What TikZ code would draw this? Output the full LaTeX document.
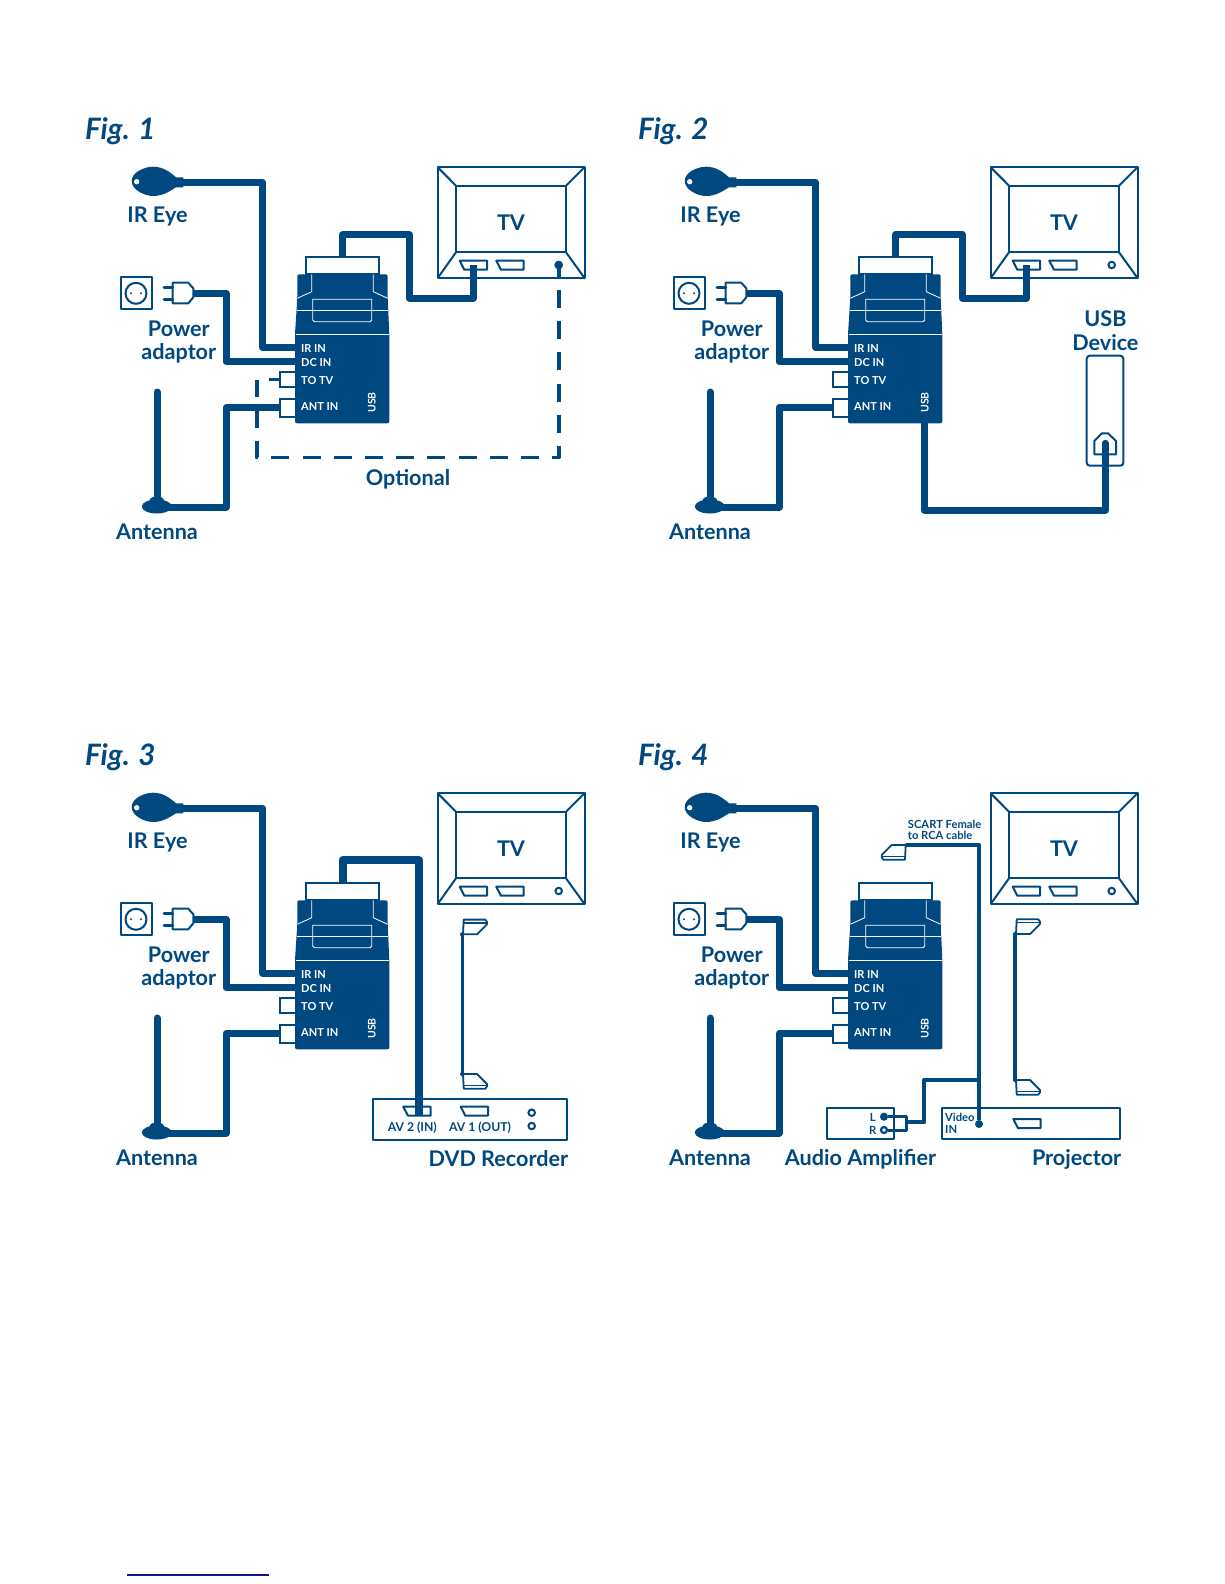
\documentclass[tikz,border=0pt]{standalone}
\usepackage{fontspec}
\setmainfont{Lato}
\definecolor{navy}{RGB}{0,72,128}
\definecolor{rulenavy}{RGB}{20,20,130}
\tikzset{
	cable/.style={draw=navy, line width=7pt, line join=round},
	thincable/.style={draw=navy, line width=4.2pt, line join=round},
	outline/.style={draw=navy, line width=2pt, line join=round},
	hair/.style={draw=white, line width=0.8pt},
	lbl/.style={text=navy, inner sep=0pt, font=\fontsize{21.6}{24}\selectfont\bfseries},
	figlbl/.style={text=navy, inner sep=0pt, anchor=west, font=\fontsize{29.5}{30}\selectfont\bfseries\itshape},
	boxlbl/.style={text=white, inner sep=0pt, anchor=west, font=\fontsize{11}{12}\selectfont\bfseries},
	smalllbl/.style={text=navy, inner sep=0pt, font=\fontsize{11.2}{12}\selectfont\bfseries},
	dvdlbl/.style={text=navy, inner sep=0pt, font=\fontsize{12.2}{13}\selectfont\bfseries},
	jack/.style={circle, draw=navy, fill=white, line width=2pt, inner sep=0pt, minimum size=6.5pt},
	fulljack/.style={circle, fill=navy, inner sep=0pt, minimum size=8pt},
	porter/.style={rectangle, draw=navy, fill=white, line width=2pt, inner sep=0pt, minimum width=16pt, minimum height=15.6pt},
	scartport/.pic={
		\coordinate (mid) at (13,4.5);
		\draw[outline] (0,0) -- (27.3,0) -- (27.3,9) -- (4.6,9) -- cycle;
	},
	scartplug/.pic={
		\coordinate (tip) at (0,0);
		\draw[outline, line width=1.8pt] (1,0) -- (1.7,-14.7) -- (23.3,-14.7) -- (25,-12.3) -- (25,-10) -- (15,0) -- cycle;
		\draw[outline, line width=1.2pt] (1.3,-11.3) -- (25,-11.3);
		\fill[navy] (0,0) circle (2);
	},
	basefig/.pic={
		\coordinate (eyeneck) at (183,182.3);
		\fill[navy] (131.7,181) .. controls (131.7,172) and (145,166.7) .. (153,166.7) .. controls (163,166.7) and (170,172) .. (176,177.3) -- (183.3,177.3) -- (183.3,187.3) -- (176,187.3) .. controls (170,191) and (163,196) .. (153,196) .. controls (145,196) and (131.7,190) .. (131.7,181) -- cycle;
		\fill[white] (136.7,181.7) circle (2.7);
		\node[lbl] (irlabel) at (157.5,216.5) {IR Eye};
		\draw[outline] (120.7,276.7) rectangle (151.7,309);
		\draw[outline] (136,293.3) circle (10.5);
		\fill[navy] (131,293.3) circle (1.1) (141,293.3) circle (1.1);
		\draw[outline] (172.7,282.7) -- (188.3,282.7) -- (193.3,288.3) -- (193.3,297.3) -- (188.3,303.3) -- (172.7,303.3) -- cycle;
		\draw[navy, line width=3pt, line cap=round] (164,287.3) -- (172.7,287.3) (164,299.5) -- (172.7,299.5);
		\coordinate (plugtip) at (193.3,293.3);
		\node[lbl] (powerlabel) at (178.8,329) {Power};
		\node[lbl] (adaptlabel) at (178.8,353) {adaptor};
		\coordinate (anttop) at (157,392);
		\coordinate (antfoot) at (157,507);
		\fill[navy] (156.8,506.5) ellipse (15 and 7) (156.8,500) ellipse (7 and 3.5);
		\draw[cable, line cap=round] (anttop) -- (antfoot);
		\node[lbl] (antlabel) at (157,532) {Antenna};
		\node[porter] (scart) at (342.5,265.5) [minimum width=73.6pt, minimum height=17.4pt] {};
		\fill[navy, rounded corners=2pt] (297.3,274.3) -- (387.7,274.3) -- (387.7,298) -- (389.3,334) -- (389.3,423.3) -- (295,423.3) -- (295,334) -- (297.3,298) -- cycle;
		\draw[hair] (311.7,274.3) -- (311.7,291.7) -- (297.3,298.3) (373.3,274.3) -- (373.3,291.7) -- (387.7,298.3);
		\draw[hair] (312.7,299.3) -- (371.7,299.3) -- (371.7,320) -- (370,321.7) -- (314.4,321.7) -- (312.7,320) -- cycle;
		\draw[hair] (296.7,310) -- (388.4,310);
		\draw[hair] (295.5,334.3) -- (389,334.3);
		\node[boxlbl] (irin) at (301,348.3) {IR IN};
		\node[boxlbl] (dcin) at (301,362.8) {DC IN};
		\node[boxlbl] (totvlabel) at (301,380.3) {TO TV};
		\node[boxlbl] (antinlabel) at (301,406.8) {ANT IN};
		\node[boxlbl, rotate=90, anchor=center, font=\fontsize{10.5}{12}\selectfont\bfseries] (usblabel) at (371.7,402.5) {USB};
		\node[porter] (totv) at (288,379.5) {};
		\node[porter, minimum height=18pt] (antin) at (288,407.5) {};
		\coordinate (irbend) at (262.6,347.3);
		\coordinate (dcbend) at (226,361.7);
		\coordinate (antbend) at (226,407.5);
		\coordinate (irport) at (296,347.3);
		\coordinate (dcport) at (296,361.7);
		\coordinate (usbport) at (371,423);
		\draw[cable] (eyeneck) -| (irbend) -- (irport);
		\draw[cable] (plugtip) -| (dcbend) -- (dcport);
		\draw[cable] (antfoot) -| (antbend) -- (antin.west);
		\draw[outline] (437.7,167.3) rectangle (584.5,278);
		\draw[outline] (456,185.7) rectangle (566,252.3);
		\draw[outline] (437.7,167.3) -- (456,185.7) (584.5,167.3) -- (566,185.7) (437.7,278) -- (456,252.3) (584.5,278) -- (566,252.3);
		\node[lbl] (tvlabel) at (511,222.3) {TV};
		\pic (tvav) at (459.7,260.7) {scartport};
		\pic (tvaux) at (496.3,260.7) {scartport};
		\node[jack] (tvjack) at (558.7,265) {};
	}
}
\begin{document}
\begin{tikzpicture}[x=1pt, y=-1pt]
		\useasboundingbox (0,0) rectangle (1224,1584);
		\coordinate (rulea) at (127,1575);
		\coordinate (ruleb) at (269,1575);
		\draw[rulenavy, line width=1.4pt] (rulea) -- (ruleb);

		\node[figlbl] (figa) at (85,131) {Fig. 1};
		\node[figlbl] (figb) at (638,131) {Fig. 2};
		\node[figlbl] (figc) at (85,757) {Fig. 3};
		\node[figlbl] (figd) at (638,757) {Fig. 4};

		\pic (f1) at (0,0) {basefig};
		\pic (f2) at (553,0) {basefig};
		\pic (f3) at (0,626) {basefig};
		\pic (f4) at (553,626) {basefig};

		\draw[thincable, line width=6.5pt] (f1scart.north) |- ++(67,-21.5) -- ++(0,64) -| (473.6,265);
		\draw[navy, line width=3.9pt, dash pattern=on 18pt off 13.2pt, dash phase=6.2pt, line join=round] (f1tvjack.center) |- (256.7,457.5) -- (256.7,379.7);
		\node[fulljack] (f1jackdot) at (f1tvjack) {};
		\draw[navy, line width=3.9pt] (f1totv.west) -- ++(-10,0);
		\node[lbl] (optlabel) at (408,479) {Optional};

		\draw[thincable, line width=6.5pt] (f2scart.north) |- ++(67,-21.5) -- ++(0,64) -| (1026.6,265);
		\draw[outline, rounded corners=3pt] (1086.7,355.7) rectangle (1123.3,465.7);
		\draw[outline] (1094.3,454.3) -- (1094.3,441) -- (1102,433.3) -- (1108,433.3) -- (1116,441) -- (1116,454.3) -- cycle;
		\coordinate (usbplug) at (1105,443.3);
		\draw[cable, line cap=round] (usbplug) |- (924,510) -- (f2usbport);
		\node[lbl] (usba) at (1105.4,319) {USB};
		\node[lbl] (usbb) at (1105.4,342.5) {Device};

		\draw[outline] (372.7,1099) rectangle (567.3,1140);
		\pic (dvdb) at (403.3,1106.7) {scartport};
		\pic (dvda) at (460.7,1106.7) {scartport};
		\node[jack] (dvdjacka) at (531.7,1112.7) {};
		\node[jack] (dvdjackb) at (531.7,1126) {};
		\node[dvdlbl] (avblabel) at (412.3,1127.7) {AV 2 (IN)};
		\node[dvdlbl] (avalabel) at (480,1127.7) {AV 1 (OUT)};
		\node[lbl] (dvdlabel) at (498.4,1158.3) {DVD Recorder};
		\coordinate (dvdin) at (418.7,1115);
		\draw[cable, line width=8pt] (f3scart.north) |- ++(76.2,-22) -- (dvdin);
		\pic (f3plugt) at (462,934.3) {scartplug};
		\pic[yscale=-1] (f3plugb) at (462,1074) {scartplug};
		\draw[navy, line width=3pt] (f3plugttip) -- (f3plugbtip);

		\pic[xscale=-1, yscale=-1] (f4scartplug) at (906.7,845) {scartplug};
		\node[smalllbl, anchor=west] (scartlabela) at (907.7,824) {SCART Female};
		\node[smalllbl, anchor=west] (scartlabelb) at (907.7,835.7) {to RCA cable};
		\node[fulljack] (videojack) at (979,1124) {};
		\draw[thincable] (f4scartplugtip) -| (videojack);
		\draw[outline] (826.7,1107.7) rectangle (894,1139);
		\draw[outline] (941.7,1107.7) rectangle (1120,1139);
		\node[jack, fill=navy, minimum size=6pt] (ampl) at (884,1116.7) {};
		\node[jack, line width=2.2pt, minimum size=6pt] (ampr) at (884,1130) {};
		\node[smalllbl] (ampllabel) at (872.7,1117) {L};
		\node[smalllbl] (amprlabel) at (872.7,1130) {R};
		\draw[navy, line width=3pt, line join=round] (ampl) -| (906,1130) -- (ampr);
		\coordinate (ampout) at (906,1122.3);
		\coordinate (ampsplit) at (978.5,1080);
		\draw[thincable] (ampout) -| (924.3,1080) -- (ampsplit);
		\node[smalllbl, anchor=west] (videolabel) at (945,1117.3) {Video};
		\node[smalllbl, anchor=west] (inlabel) at (945,1129) {IN};
		\pic (projport) at (1013.3,1119) {scartport};
		\pic (f4plugt) at (1015,934) {scartplug};
		\pic[yscale=-1] (f4plugb) at (1015,1080) {scartplug};
		\draw[navy, line width=3.4pt] (f4plugttip) -- (f4plugbtip);
		\node[lbl] (amplabel) at (860.5,1159.5) {Audio Amplifier};
		\node[lbl] (projlabel) at (1076.6,1159) {Projector};
	\end{tikzpicture}
\end{document}
